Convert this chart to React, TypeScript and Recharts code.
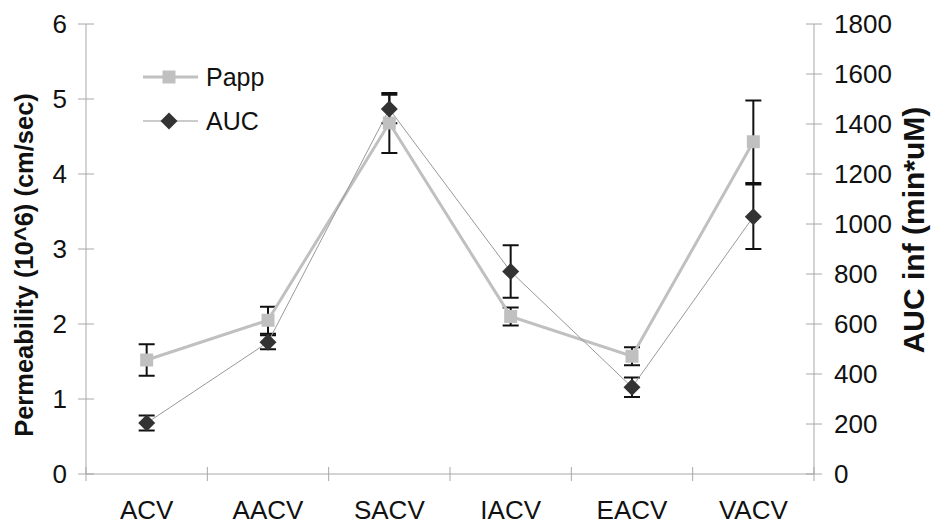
import React from "react";
import { LineChart, Line, XAxis, YAxis, ErrorBar } from "recharts";

const categories = ["ACV", "AACV", "SACV", "IACV", "EACV", "VACV"];
const pappValues = [1.52, 2.05, 4.68, 2.1, 1.57, 4.43];
const pappErrors = [0.21, 0.18, 0.4, 0.12, 0.12, 0.55];
const aucValues = [204, 527, 1460, 810, 347, 1029];
const aucErrors = [30, 28, 57, 105, 39, 129];
const leftTicks = [0, 1, 2, 3, 4, 5, 6];
const rightTicks = [0, 200, 400, 600, 800, 1000, 1200, 1400, 1600, 1800];

const data = categories.map((name, i) => ({
  name,
  papp: pappValues[i],
  pappErr: pappErrors[i],
  auc: aucValues[i],
  aucErr: aucErrors[i],
}));

const FONT = "'Liberation Sans', Arial, sans-serif";
const AXIS = "#a8a8a8";
const PAPP = "#c0c0c0";
const AUC_LINE = "#999999";
const AUC_DOT = "#333333";

const W = 932;
const H = 524;
const LEFT_W = 86;
const RIGHT_W = 118;
const HALF_BAND = (W - LEFT_W - RIGHT_W) / categories.length / 2;

const LeftTick = (props: any) => {
  const { x, y, payload } = props;
  return (
    <g>
      <line x1={x - 8} x2={x + 8} y1={y} y2={y} stroke={AXIS} strokeWidth={1} />
      <text x={x - 19} y={y} dy={9} textAnchor="end" fontSize={26} fill="#111" fontFamily={FONT}>
        {payload.value}
      </text>
    </g>
  );
};

const RightTick = (props: any) => {
  const { x, y, payload } = props;
  return (
    <g>
      <line x1={x - 8} x2={x + 8} y1={y} y2={y} stroke={AXIS} strokeWidth={1} />
      <text x={x + 20} y={y} dy={9} textAnchor="start" fontSize={26} fill="#111" fontFamily={FONT}>
        {payload.value}
      </text>
    </g>
  );
};

const CatTick = (props: any) => {
  const { x, y, payload, index } = props;
  return (
    <g>
      <line x1={x - HALF_BAND} x2={x - HALF_BAND} y1={y - 7} y2={y + 7} stroke={AXIS} strokeWidth={1} />
      {index === categories.length - 1 && (
        <line x1={x + HALF_BAND} x2={x + HALF_BAND} y1={y - 7} y2={y + 7} stroke={AXIS} strokeWidth={1} />
      )}
      <text x={x} y={y + 45} textAnchor="middle" fontSize={26} fill="#111" fontFamily={FONT}>
        {payload.value}
      </text>
    </g>
  );
};

const SquareDot = (props: any) => {
  const { cx, cy, index } = props;
  return <rect key={`sq-${index}`} x={cx - 6.5} y={cy - 6.5} width={13} height={13} fill={PAPP} />;
};

const DiamondDot = (props: any) => {
  const { cx, cy, index } = props;
  const r = 8.5;
  return (
    <polygon
      key={`dm-${index}`}
      points={`${cx},${cy - r} ${cx + r},${cy} ${cx},${cy + r} ${cx - r},${cy}`}
      fill={AUC_DOT}
    />
  );
};

const LegendBox = () => (
  <svg
    width={160}
    height={80}
    style={{ position: "absolute", left: 140, top: 60, overflow: "visible" }}
  >
    <line x1={3} x2={58} y1={17} y2={17} stroke={PAPP} strokeWidth={3} />
    <rect x={22.5} y={10.5} width={13} height={13} fill={PAPP} />
    <text x={66} y={26} fontSize={25} fill="#111" fontFamily={FONT}>Papp</text>
    <line x1={3} x2={58} y1={61} y2={61} stroke={AUC_LINE} strokeWidth={1} />
    <polygon points="29,52.5 37.5,61 29,69.5 20.5,61" fill={AUC_DOT} />
    <text x={66} y={70} fontSize={25} fill="#111" fontFamily={FONT}>AUC</text>
  </svg>
);

export default function App() {
  return (
    <div style={{ position: "absolute", left: 0, top: 0, width: W, height: H, background: "#fff" }}>
      <LineChart width={W} height={H} data={data} margin={{ top: 24, right: 0, bottom: 0, left: 0 }}>
        <XAxis
          dataKey="name"
          scale="band"
          height={50}
          axisLine={{ stroke: AXIS }}
          tickLine={false}
          tickSize={0}
          tickMargin={0}
          tick={<CatTick />}
          interval={0}
        />
        <YAxis
          yAxisId="left"
          domain={[0, 6]}
          ticks={leftTicks}
          width={LEFT_W}
          axisLine={{ stroke: AXIS }}
          tickLine={false}
          tickSize={0}
          tickMargin={0}
          tick={<LeftTick />}
          label={({ viewBox }: any) => {
            const cy = viewBox.y + viewBox.height / 2 + 16;
            return (
              <text
                x={24}
                y={cy}
                transform={`rotate(-90, 24, ${cy})`}
                textAnchor="middle"
                dominantBaseline="central"
                fontSize={25.5}
                fontWeight="bold"
                fill="#111"
                fontFamily={FONT}
              >
                Permeability (10^6) (cm/sec)
              </text>
            );
          }}
        />
        <YAxis
          yAxisId="right"
          orientation="right"
          domain={[0, 1800]}
          ticks={rightTicks}
          width={RIGHT_W}
          axisLine={{ stroke: AXIS }}
          tickLine={false}
          tickSize={0}
          tickMargin={0}
          tick={<RightTick />}
          label={({ viewBox }: any) => {
            const cy = viewBox.y + 206;
            return (
              <text
                x={913}
                y={cy}
                transform={`rotate(-90, 913, ${cy})`}
                textAnchor="middle"
                dominantBaseline="central"
                fontSize={30}
                fontWeight="bold"
                fill="#111"
                fontFamily={FONT}
              >
                AUC inf (min*uM)
              </text>
            );
          }}
        />
        <Line
          yAxisId="left"
          dataKey="papp"
          name="Papp"
          stroke={PAPP}
          strokeWidth={3}
          dot={SquareDot}
          activeDot={false}
          isAnimationActive={false}
        >
          <ErrorBar dataKey="pappErr" direction="y" width={8} stroke="#111" strokeWidth={2} isAnimationActive={false} />
        </Line>
        <Line
          yAxisId="right"
          dataKey="auc"
          name="AUC"
          stroke={AUC_LINE}
          strokeWidth={1}
          dot={DiamondDot}
          activeDot={false}
          isAnimationActive={false}
        >
          <ErrorBar dataKey="aucErr" direction="y" width={8} stroke="#111" strokeWidth={2} isAnimationActive={false} />
        </Line>
      </LineChart>
      <LegendBox />
    </div>
  );
}
